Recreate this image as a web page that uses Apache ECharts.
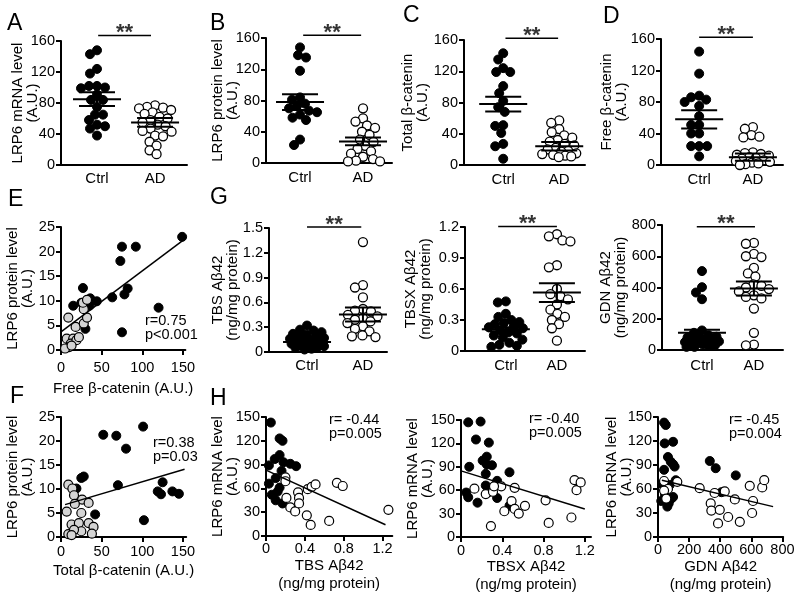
<!DOCTYPE html>
<html><head><meta charset="utf-8">
<script src="https://cdn.jsdelivr.net/npm/echarts@6/dist/echarts.min.js"></script>
<style>html,body{margin:0;padding:0;background:#fff}#c{width:800px;height:597px}</style>
</head><body><div id="c"></div>
<script>
const FONT = 'Arial, "Liberation Sans", Helvetica, sans-serif';
const groups = ['Ctrl', 'AD'];

// ---- A: LRP6 mRNA level
const aCtrl = [148,143,124,118,102,102,100,99,91,84,84,75,65,65,58,52,50,47,38];
const aAD = [77,75,74,73,71,68,66,62,60,58,55,52,50,47,44,43,38,37,30,25,19,14];
const aStats = [[85, 9], [55, 5.5]];
// ---- B: LRP6 protein level
const bCtrl = [148,138,135,118,84,81,76,73,70,67,65,62,58,55,30,23];
const bAD = [70,57,53,48,45,40,36,30,27,22,18,15,12,8,5,3,2,2];
const bStats = [[78, 10], [27.6, 5]];
// ---- C: Total beta-catenin
const cCtrl = [143,135,124,119,119,101,92,82,74,68,51,50,41,27,24,8];
const cAD = [57,54,46,42,38,35,32,30,27,25,22,20,18,17,15,14,13,12,11,10];
const cStats = [[78, 9.5], [24, 5.5]];
// ---- D: Free beta-catenin
const dCtrl = [144,116,88,86,83,80,75,62,51,51,40,40,24,24,24,11];
const dAD = [48,46,38,36,35,16,15,14,13,12,10,9,8,6,5,4,3,2,1,0];
const dStats = [[58, 11.5], [10, 4.5]];
// ---- G: TBS / TBSX / GDN Abeta42
const g1Ctrl = [0.32,0.27,0.26,0.24,0.22,0.21,0.19,0.18,0.17,0.16,0.15,0.14,0.13,0.12,0.11,0.1,0.09,0.08,0.07,0.06,0.05,0.04,0.03];
const g1AD = [1.33,0.81,0.78,0.66,0.52,0.5,0.49,0.45,0.43,0.41,0.39,0.37,0.35,0.31,0.28,0.25,0.2,0.19,0.18];
const g1Stats = [[0.12, 0.015], [0.453, 0.085]];
const g2Ctrl = [0.48,0.47,0.36,0.33,0.3,0.28,0.27,0.26,0.24,0.23,0.22,0.2,0.18,0.17,0.15,0.13,0.11,0.08,0.06,0.05,0.04];
const g2AD = [1.13,1.11,1.07,1.06,0.83,0.81,0.6,0.55,0.53,0.5,0.45,0.4,0.36,0.33,0.3,0.26,0.22,0.1];
const g2Stats = [[0.21, 0.02], [0.565, 0.09]];
const g3Ctrl = [505,402,368,325,125,110,95,85,80,75,70,65,60,55,50,45,40,35,30,25,20,20];
const g3AD = [685,680,615,600,595,525,490,470,420,410,400,390,375,350,340,330,265,110,35,30];
const g3Stats = [[111, 18], [394, 45]];

// ---- E: Free beta-catenin vs LRP6 protein
const eCtrl = [[149,23.0],[75,21.0],[92,21.0],[73,18.1],[82,12.5],[78,11.3],[63,10.7],[120,8.6],[75,3.6],[27,12.6],[25,9.6],[15,9.0],[35,9.0],[44,9.9],[36,10.5],[30,4.3]];
const eAD = [[9,6.6],[18,4.7],[28,5.4],[32,6.6],[28,8.3],[27,9.6],[32,10.2],[7,2.3],[15,2.3],[12,1.3],[10,0.6],[5,0.3],[19,2.0],[22,2.6],[13,0.9]];
const eFit = [3.7, 0.124]; const eFitRange = [0, 150];
// ---- F: Total beta-catenin vs LRP6 protein
const fCtrl = [[52,21.3],[68,21.1],[101,23.0],[80,18.4],[70,10.8],[28,12.6],[25,12.3],[19,10.1],[42,4.7],[102,3.5],[125,11.4],[119,9.5],[123,8.9],[137,9.5],[145,9.0]];
const fAD = [[9,10.9],[14,10.1],[16,8.7],[26,7.8],[17,6.9],[34,7.1],[7,5.3],[25,5.0],[13,2.6],[22,2.9],[34,2.9],[40,2.1],[9,0.6],[25,1.2],[38,0.7],[16,1.5],[13,0.4]];
const fFit = [6.5, 0.05]; const fFitRange = [5, 152];
// ---- H: Abeta42 vs LRP6 mRNA
const h1Ctrl = [[0.05,143],[0.14,123],[0.17,120],[0.14,102],[0.09,97],[0.18,93],[0.25,91],[0.31,88],[0.03,89],[0.16,82],[0.1,73],[0.03,66],[0.14,61],[0.12,56],[0.06,52],[0.1,45],[0.17,41]];
const h1AD = [[0.2,74],[0.2,69],[0.21,48],[0.25,36],[0.3,31],[0.33,55],[0.34,48],[0.34,41],[0.43,59],[0.47,62],[0.51,65],[0.42,26],[0.46,14],[0.65,19],[0.73,67],[0.79,63],[1.26,33]];
const h1Fit = [83, -56]; const h1FitRange = [0, 1.23];
const h2Ctrl = [[0.07,147],[0.19,148],[0.145,125],[0.27,121],[0.08,90],[0.21,98],[0.25,103],[0.25,93],[0.3,92],[0.24,81],[0.24,66],[0.35,72],[0.47,83],[0.05,57],[0.07,51],[0.16,44],[0.35,50],[0.47,40],[0.28,58]];
const h2AD = [[0.13,62],[0.24,55],[0.31,58],[0.39,65],[0.52,63],[0.42,33],[0.49,46],[0.52,36],[0.56,30],[0.62,40],[0.29,14],[0.82,47],[0.85,18],[1.07,25],[1.1,73],[1.12,60],[1.16,70],[0.32,65]];
const h2Fit = [84.8, -40.8]; const h2FitRange = [0, 1.2];
const h3Ctrl = [[39,143],[50,140],[43,117],[97,119],[64,100],[82,94],[97,91],[39,84],[107,88],[28,66],[75,65],[21,45],[69,42],[97,50],[333,95],[371,86],[408,56],[500,77],[114,71],[86,48],[45,53],[60,38]];
const h3AD = [[39,70],[64,60],[124,69],[268,61],[339,42],[343,33],[364,55],[397,34],[429,57],[386,17],[451,25],[494,47],[526,19],[590,64],[605,30],[611,45],[670,62],[683,71],[39,58],[53,48]];
const h3Fit = [72, -0.046]; const h3FitRange = [25, 740];

const ticks150 = [0, 50, 100, 150];
const ticksTBS = [0, 0.4, 0.8, 1.2];
const ticksGDN = [0, 200, 400, 600, 800];

// ---- layout (positions / styles only)
const dotPanels = [
  {ctrl:aCtrl, ad:aAD, st:aStats, yMax:160, yInt:40, yName:'LRP6 mRNA level\n(A.U.)', g:[61,41,126,124], xr:[-0.62,1.55], gap:21, cm:6, sig:1.045, sx:[0.02,0.93]},
  {ctrl:bCtrl, ad:bAD, st:bStats, yMax:160, yInt:40, yName:'LRP6 protein level\n(A.U.)', g:[266,38,126,125], xr:[-0.54,1.46], gap:25.5, cm:7, sig:1.022, sx:[0.05,0.97]},
  {ctrl:cCtrl, ad:cAD, st:cStats, yMax:160, yInt:40, yName:'Total β-catenin\n(A.U.)', g:[464,40,121,125], xr:[-0.7,1.46], gap:33.5, cm:7, sig:1.014, sx:[0.04,0.98]},
  {ctrl:dCtrl, ad:dAD, st:dStats, yMax:160, yInt:40, yName:'Free β-catenin\n(A.U.)', g:[661,39,122,126], xr:[-0.71,1.56], gap:31.5, cm:7, sig:1.013, sx:[0,1]},
  {ctrl:g1Ctrl, ad:g1AD, st:g1Stats, yMax:1.5, yInt:0.3, yName:'TBS Aβ42\n(ng/mg protein)', g:[269,228,118,124], xr:[-0.68,1.43], gap:29, cm:6, sig:1.008, sx:[0,0.97]},
  {ctrl:g2Ctrl, ad:g2AD, st:g2Stats, yMax:1.2, yInt:0.3, yName:'TBSX Aβ42\n(ng/mg protein)', g:[465,227,120,124], xr:[-0.8,1.55], gap:31.5, cm:7, sig:1.005, sx:[-0.15,1]},
  {ctrl:g3Ctrl, ad:g3AD, st:g3Stats, yMax:800, yInt:200, yName:'GDN Aβ42\n(ng/mg protein)', g:[662,225,121,125], xr:[-0.77,1.56], gap:33.5, cm:8, sig:0.986, sx:[-0.1,1.02]}
];
const scPanels = [
  {ctrl:eCtrl, ad:eAD, fit:eFit, fr:eFitRange, adFill:'#d4d4d4', xMax:153, xt:ticks150, yMax:25, yInt:5, yName:'LRP6 protein level\n(A.U.)', xName:'Free β-catenin (A.U.)', g:[61,227,124.4,123], gap:25.5, xgap:30, lm:10},
  {ctrl:fCtrl, ad:fAD, fit:fFit, fr:fFitRange, adFill:'#d4d4d4', xMax:154, xt:ticks150, yMax:25, yInt:5, yName:'LRP6 protein level\n(A.U.)', xName:'Total β-catenin (A.U.)', g:[61,417,125.2,120], gap:25.5, xgap:25, lm:7},
  {ctrl:h1Ctrl, ad:h1AD, fit:h1Fit, fr:h1FitRange, adFill:'#fff', xMax:1.3, xt:ticksTBS, yMax:150, yInt:30, yName:'LRP6 mRNA level\n(A.U.)', xName:'TBS Aβ42\n(ng/mg protein)', g:[266,417,126.3,119], gap:25.5, xgap:21, lm:5},
  {ctrl:h2Ctrl, ad:h2AD, fit:h2Fit, fr:h2FitRange, adFill:'#fff', xMax:1.26, xt:ticksTBS, yMax:150, yInt:30, yName:'LRP6 mRNA level\n(A.U.)', xName:'TBSX Aβ42\n(ng/mg protein)', g:[461,420,130,117], gap:25.5, xgap:21, lm:6},
  {ctrl:h3Ctrl, ad:h3AD, fit:h3Fit, fr:h3FitRange, adFill:'#fff', xMax:805, xt:ticksGDN, yMax:150, yInt:30, yName:'LRP6 mRNA level\n(A.U.)', xName:'GDN Aβ42\n(ng/mg protein)', g:[658,417,125.2,120], gap:23.5, xgap:21, lm:5}
];
const letters = [['A',7,12],['B',210,12],['C',403,4],['D',603,5],['E',8,188],['G',210,186],['F',10,385],['H',210,387]];
const statTexts = [['r=0.75\np<0.001',145,314],['r=0.38\np=0.03',153,436],['r= -0.44\np=0.005',329,413],['r= -0.40\np=0.005',529,412],['r= -0.45\np=0.004',729,413]];

const AX = {color:'#000', width:2};
const DOT = 9;
const SWARM_D = 8;
const SWARM_W = 17;

function swarm(vals, center, pxX, pxY, d, w) {
  const idx = vals.map((v, i) => i).sort((a, b) => vals[b] - vals[a]);
  const placed = [], out = [];
  idx.forEach(i => {
    const py = vals[i] * pxY;
    let off = null, bestOff = 0, bestDist = -1;
    for (let k = 0; k <= w * 4; k++) {
      const cand = (k % 2 ? -1 : 1) * Math.ceil(k / 2) * 0.5;
      let md = Infinity;
      placed.forEach(p => { md = Math.min(md, Math.hypot(p[0] - cand, p[1] - py)); });
      if (md >= d) { off = cand; break; }
      if (md > bestDist) { bestDist = md; bestOff = cand; }
    }
    if (off === null) off = bestOff;
    placed.push([off, py]);
    out.push([center + off / pxX, vals[i]]);
  });
  return out;
}

const grid = [], xAxis = [], yAxis = [], series = [], title = [];
function yAx(i, p) {
  return {gridIndex:i, type:'value', min:0, max:p.yMax, interval:p.yInt,
    axisLine:{show:true, onZero:false, lineStyle:AX}, axisTick:{show:true, length:5, lineStyle:AX},
    splitLine:{show:false},
    axisLabel:{color:'#000', fontSize:14.5, fontFamily:FONT, margin:6},
    name:p.yName, nameLocation:'middle', nameGap:p.gap, nameMoveOverlap:false,
    nameTextStyle:{color:'#000', fontSize:15, fontFamily:FONT, lineHeight:15}};
}
let gi = 0;
dotPanels.forEach(p => {
  const i = gi++;
  grid.push({left:p.g[0], top:p.g[1], width:p.g[2], height:p.g[3], containLabel:false});
  xAxis.push({gridIndex:i, type:'value', min:p.xr[0], max:p.xr[1],
    axisLine:{show:true, onZero:false, lineStyle:AX}, axisTick:{show:false}, splitLine:{show:false},
    axisLabel:{customValues:[0,1], formatter:v => groups[Math.round(v)], color:'#000', fontSize:15, fontFamily:FONT, margin:p.cm}});
  yAxis.push(yAx(i, p));
  const pxX = p.g[2] / (p.xr[1] - p.xr[0]);
  const pxY = p.g[3] / p.yMax;
  series.push({type:'scatter', xAxisIndex:i, yAxisIndex:i, symbolSize:DOT, z:3,
    itemStyle:{color:'#000', borderColor:'#000', borderWidth:1, opacity:1},
    data:swarm(p.ctrl, 0, pxX, pxY, SWARM_D, SWARM_W)});
  series.push({type:'scatter', xAxisIndex:i, yAxisIndex:i, symbolSize:DOT, z:3,
    itemStyle:{color:'#fff', borderColor:'#000', borderWidth:1.3, opacity:1},
    data:swarm(p.ad, 1, pxX, pxY, SWARM_D, SWARM_W)});
  series.push({type:'custom', xAxisIndex:i, yAxisIndex:i, z:5, silent:true,
    data:p.st.map((s, k) => [k, s[0], s[1]]),
    renderItem:(params, api) => {
      const g = api.value(0), m = api.value(1), s = api.value(2);
      const c = api.coord([g, m]), t = api.coord([g, m + s]), b = api.coord([g, m - s]);
      const st = {stroke:'#000', lineWidth:2};
      return {type:'group', children:[
        {type:'line', shape:{x1:c[0]-24, y1:c[1], x2:c[0]+24, y2:c[1]}, style:st},
        {type:'line', shape:{x1:t[0]-18, y1:t[1], x2:t[0]+18, y2:t[1]}, style:st},
        {type:'line', shape:{x1:b[0]-18, y1:b[1], x2:b[0]+18, y2:b[1]}, style:st},
        {type:'line', shape:{x1:c[0], y1:t[1], x2:c[0], y2:b[1]}, style:st}
      ]};
    }});
  const sy = p.yMax * p.sig;
  series.push({type:'line', xAxisIndex:i, yAxisIndex:i, clip:false, symbol:'none', silent:true,
    lineStyle:{color:'#000', width:1.5}, data:[[p.sx[0], sy], [p.sx[1], sy]]});
  series.push({type:'scatter', xAxisIndex:i, yAxisIndex:i, clip:false, symbolSize:1, silent:true,
    itemStyle:{color:'rgba(0,0,0,0)'},
    label:{show:true, position:'top', distance:-9, formatter:'**', color:'#000', fontSize:22, fontWeight:'bold', fontFamily:FONT},
    data:[[(p.sx[0] + p.sx[1]) / 2, sy]]});
});
scPanels.forEach(p => {
  const i = gi++;
  grid.push({left:p.g[0], top:p.g[1], width:p.g[2], height:p.g[3], containLabel:false});
  xAxis.push({gridIndex:i, type:'value', min:0, max:p.xMax,
    axisLine:{show:true, onZero:false, lineStyle:AX},
    axisTick:{show:true, customValues:p.xt, length:5, lineStyle:AX}, splitLine:{show:false},
    axisLabel:{customValues:p.xt, color:'#000', fontSize:14.5, fontFamily:FONT, margin:p.lm},
    name:p.xName, nameLocation:'middle', nameGap:p.xgap, nameMoveOverlap:false,
    nameTextStyle:{color:'#000', fontSize:15, fontFamily:FONT, lineHeight:18}});
  yAxis.push(yAx(i, p));
  series.push({type:'scatter', xAxisIndex:i, yAxisIndex:i, symbolSize:DOT, z:3,
    itemStyle:{color:'#000', borderColor:'#000', borderWidth:1, opacity:1}, data:p.ctrl});
  series.push({type:'scatter', xAxisIndex:i, yAxisIndex:i, symbolSize:DOT, z:4,
    itemStyle:{color:p.adFill, borderColor:'#000', borderWidth:1.2, opacity:1}, data:p.ad});
  series.push({type:'line', xAxisIndex:i, yAxisIndex:i, symbol:'none', z:6, silent:true,
    lineStyle:{color:'#000', width:1.5},
    data:p.fr.map(x => [x, p.fit[0] + p.fit[1] * x])});
});
letters.forEach(l => title.push({text:l[0], left:l[1], top:l[2], padding:0,
  textStyle:{fontSize:23, fontWeight:'normal', color:'#000', fontFamily:FONT}}));
statTexts.forEach(s => title.push({text:s[0], left:s[1], top:s[2], padding:0,
  textStyle:{fontSize:14.5, fontWeight:'normal', color:'#000', fontFamily:FONT, lineHeight:14}}));

const chart = echarts.init(document.getElementById('c'), null, {renderer:'canvas'});
chart.setOption({animation:false, backgroundColor:'#fff', title, grid, xAxis, yAxis, series});
</script></body></html>
